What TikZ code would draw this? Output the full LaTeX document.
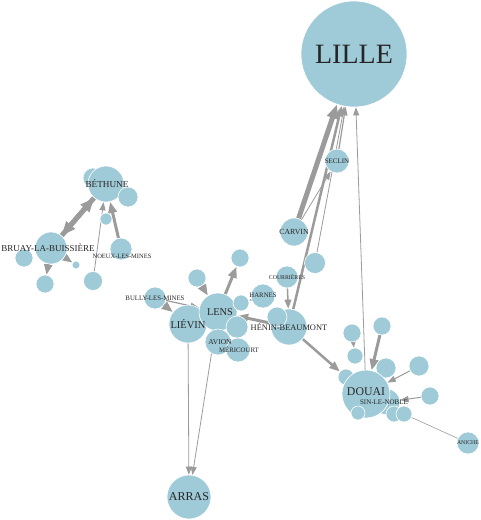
\documentclass[tikz,border=0pt]{standalone}
\usepackage{fontspec}
\setmainfont{Liberation Serif}
\usetikzlibrary{arrows.meta,backgrounds}
\definecolor{townblue}{RGB}{159,202,215}
\definecolor{linkgray}{RGB}{155,155,155}

\begin{document}
\begin{tikzpicture}[
 x=1pt, y=-1pt, >={Triangle[length=7pt 1.4, width=5pt 1.2]},
 town/.style={circle, draw=white, line width=0.6pt, fill=townblue, inner sep=0pt, minimum size=2*#1},
 lbl/.style={font=\fontsize{#1}{#1}\selectfont, text=black!85, inner sep=0pt},
 wt/.style={line width=#1},
 every edge/.style={draw=linkgray, ->, line width=0.8pt}]
\useasboundingbox (0,0) rectangle (480,520);
% north: Lille and its suburbs
\node[town=53] (lille) at (354,54) {};
\node[town=12] (seclin) at (337,161) {};
\node[town=14] (carvin) at (294,232) {};
\node[town=10.5] (c1) at (315,263) {};
\node[town=11] (courr) at (287,277) {};
% mining basin around Lens
\node[town=18] (henin) at (289,327) {};
\node[town=10] (henin2) at (277,317) {};
\node[town=12] (harnes) at (263,296) {};
\node[town=19] (lievin) at (188,324) {};
\node[town=19] (lens) at (218,312) {};
\node[town=11] (bully) at (155,298) {};
\node[town=9] (lensnw) at (197,278) {};
\node[town=9] (lensn) at (240,258) {};
\node[town=8] (lensne) at (241,303) {};
\node[town=11] (lense) at (237,327) {};
\node[town=13] (avion) at (218,342) {};
\node[town=12] (meric) at (238,350) {};
\node[town=22] (arras) at (189,497) {};
% Douai cluster
\node[town=9] (d1) at (352,333) {};
\node[town=9] (d2) at (382,326) {};
\node[town=8] (d3) at (355,356) {};
\node[town=10] (d4) at (386,368) {};
\node[town=10] (d5) at (419,366) {};
\node[town=9] (d6) at (430,396) {};
\node[town=8] (d7) at (346,377) {};
\node[town=13] (sln) at (387,402) {};
\node[town=24] (douai) at (366,394) {};
\node[town=7] (d8) at (358,413) {};
\node[town=8] (d9) at (394,414) {};
\node[town=8] (d10) at (404,414) {};
\node[town=11] (aniche) at (468,443) {};
% Bethune cluster
\node[town=10] (b0) at (93,178) {};
\node[town=18] (bethune) at (106,184) {};
\node[town=10] (b1) at (128,197) {};
\node[town=6] (b2) at (106,219) {};
\node[town=11] (noeux) at (121,249) {};
\node[town=16] (bruay) at (51,248) {};
\node[town=9] (b3) at (24,258) {};
\node[town=9] (b4) at (45,284) {};
\node[town=4] (b5) at (76,265) {};
\node[town=9.5] (b6) at (93,281) {};

\begin{scope}[on background layer]
\draw (carvin) edge[wt=5pt] (lille)
      (henin) edge[wt=2.5pt] (lille)
      (seclin) edge[wt=1.2pt] (lille)
      (c1) edge (lille)
      (douai) edge (lille)
      (carvin) edge (seclin)
      (courr) edge[wt=1.5pt] (henin)
      (henin) edge[wt=3pt] (lens)
      (harnes) edge[wt=1.5pt] (lensne)
      (lens) edge[wt=3pt] (lensn)
      (lensnw) edge[wt=3pt] (lens)
      (bully) edge[wt=1.2pt] (lens)
      (bully) edge[wt=3pt] (lievin)
      (lievin) edge (arras)
      (lens) edge (arras)
      (henin) edge[wt=2.5pt] (d7)
      (d2) edge[wt=3pt] (douai)
      (d1) edge[wt=2pt] (d3)
      (d5) edge[wt=1pt] (douai)
      (d6) edge[wt=1pt] (sln)
      (aniche) edge[-, wt=0.6pt] (d10)
      (bruay) edge[wt=5pt] (bethune)
      (bethune) edge[wt=5pt] (bruay)
      (noeux) edge[wt=3pt] (bethune)
      (b6) edge (bethune)
      (bruay) edge[wt=2.5pt] (b4)
      (bruay) edge[wt=2pt] (b5);
\end{scope}

% labels on top
\node[lbl=28] (lille-l) at (lille) {LILLE};
\node[lbl=7] (seclin-l) at (seclin) {SECLIN};
\node[lbl=7.8] (carvin-l) at (carvin) {CARVIN};
\node[lbl=5.8] (courr-l) at (courr) {COURRIÈRES};
\node[lbl=8.4] (henin-l) at (henin) {HÉNIN-BEAUMONT};
\node[lbl=6.8] (harnes-l) at (263,295) {HARNES};
\node[lbl=10.4] (lens-l) at (220,312) {LENS};
\node[lbl=10.5] (lievin-l) at (lievin) {LIÉVIN};
\node[lbl=6.8] (bully-l) at (155,298) {BULLY-LES-MINES};
\node[lbl=7.5] (avion-l) at (220,342) {AVION};
\node[lbl=6.8] (meric-l) at (239,350) {MÉRICOURT};
\node[lbl=12] (arras-l) at (arras) {ARRAS};
\node[lbl=11.8] (douai-l) at (366,392) {DOUAI};
\node[lbl=7] (sln-l) at (384,402) {SIN-LE-NOBLE};
\node[lbl=5.8] (aniche-l) at (aniche) {ANICHE};
\node[lbl=9.2] (bethune-l) at (107,184) {BÉTHUNE};
\node[lbl=9] (bruay-l) at (48,248) {BRUAY-LA-BUISSIÈRE};
\node[lbl=6.5] (noeux-l) at (122,256) {NOEUX-LES-MINES};
\end{tikzpicture}
\end{document}
